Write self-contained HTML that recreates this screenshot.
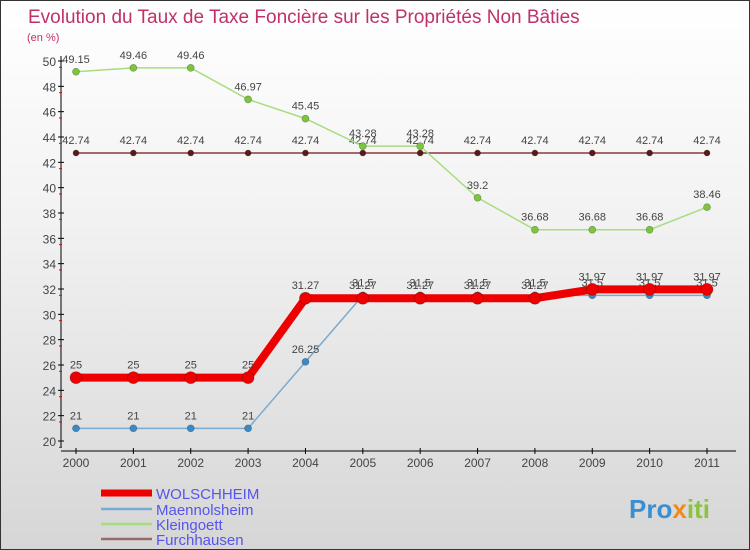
<!DOCTYPE html>
<html><head><meta charset="utf-8"><style>
body{margin:0}
#c{width:750px;height:550px;position:relative;overflow:hidden;background:linear-gradient(#ffffff,#f2f2f2 40%,#d6d6d6);border:1px solid #333;box-sizing:border-box;font-family:"Liberation Sans",sans-serif}
svg text{font-family:"Liberation Sans",sans-serif}
</style></head><body>
<div id="c">
<svg id="s" width="750" height="550">
<text x="27" y="22" font-size="19" fill="#c0306a">Evolution du Taux de Taxe Foncière sur les Propriétés Non Bâties</text>
<text x="26" y="40" font-size="11" fill="#c0306a">(en %)</text>
<text x="628" y="517" font-size="26" font-weight="bold" fill="#3a8fd0">Pro<tspan fill="#f08a1c">x</tspan><tspan fill="#8ac43f">iti</tspan></text>
</svg>
</div>
<script>
const years=[2000,2001,2002,2003,2004,2005,2006,2007,2008,2009,2010,2011];
const wolschheim=[25,25,25,25,31.27,31.27,31.27,31.27,31.27,31.97,31.97,31.97];
const maennolsheim=[21,21,21,21,26.25,31.5,31.5,31.5,31.5,31.5,31.5,31.5];
const kleingoett=[49.15,49.46,49.46,46.97,45.45,43.28,43.28,39.2,36.68,36.68,36.68,38.46];
const furchhausen=[42.74,42.74,42.74,42.74,42.74,42.74,42.74,42.74,42.74,42.74,42.74,42.74];
const yTicks=[20,22,24,26,28,30,32,34,36,38,40,42,44,46,48,50];
const NS="http://www.w3.org/2000/svg";
const svg=document.getElementById('s');
const xs=i=>75+i*(706-75)/11;
const ys=v=>440-(v-20)*(380/30);
function mk(t,a,p){const e=document.createElementNS(NS,t);for(const k in a)e.setAttribute(k,a[k]);(p||svg).appendChild(e);return e;}
// axes
let ya=mk('line',{x1:60,y1:55,x2:60,y2:447,stroke:'#000','stroke-width':1});


let xa=mk('line',{x1:60,y1:450,x2:735,y2:450,stroke:'#000','stroke-width':1});


yTicks.forEach(v=>{
  const y=ys(v);
  mk('line',{x1:57,y1:y,x2:63,y2:y,stroke:'#000'});
  mk('line',{x1:58,y1:y+6.3,x2:61,y2:y+6.3,stroke:'#e00'});
  const t=mk('text',{x:55,y:y+5,'font-size':12,'text-anchor':'end',fill:'#444'});
  t.textContent=v;
  
  
});
years.forEach((yr,i)=>{
  const x=xs(i);
  mk('line',{x1:x,y1:447,x2:x,y2:453,stroke:'#000'});
  const t=mk('text',{x:x,y:466,'font-size':12,'text-anchor':'middle',fill:'#444'});
  t.textContent=yr;
  
  
});
function series(vals,color,w,r,name,dot,lab){
  const g=mk('g',{});
  
  
  const p=mk('polyline',{points:vals.map((v,i)=>xs(i)+','+ys(v)).join(' '),fill:'none',stroke:color,'stroke-width':w},g);
  
  
  vals.forEach((v,i)=>{
    const c=mk('circle',{cx:xs(i),cy:ys(v),r:r,fill:dot,stroke:'rgba(0,0,0,0.3)','stroke-width':0.7},g);
    
    
    const t=mk('text',{x:xs(i),y:ys(v)-9,'font-size':11,'text-anchor':'middle',fill:'#444'},g);
    t.textContent=v;
    
    
  });
}
series(furchhausen,'#8a3a3a',1.5,3,'furchhausen','#5a1a1a');
series(kleingoett,'#a8dc80',1.5,3.5,'kleingoett','#7cc63c');
series(maennolsheim,'#7aaad0',1.5,3.5,'maennolsheim','#3b8ac8');
series(wolschheim,'#ee0000',8,6,'wolschheim','#ee0000');
// legend
const leg=[['WOLSCHHEIM','#ee0000',7],['Maennolsheim','#7aaad0',2.5],['Kleingoett','#a8dc80',2.5],['Furchhausen','#9a6a6a',2.5]];
const ly=[492,508,523,538];
leg.forEach((l,i)=>{
  const g=mk('g',{});
  
  
  mk('line',{x1:100,y1:ly[i],x2:151,y2:ly[i],stroke:l[1],'stroke-width':l[2]},g);
  const t=mk('text',{x:155,y:ly[i]+6,'font-size':15,fill:'#5555ee'},g);
  t.textContent=l[0];
});
</script>
</body></html>
